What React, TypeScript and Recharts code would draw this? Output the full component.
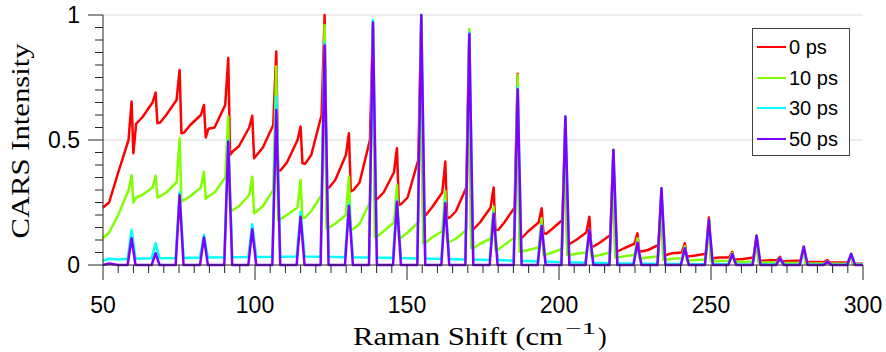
import { LineChart, Line, XAxis, YAxis, ReferenceLine } from 'recharts'

// Raman shift of each rotational line (cm^-1)
const peakShift = [59.4, 67.3, 75.2, 83.2, 91.2, 99.1, 107.0, 115.0, 122.9, 130.9, 138.8, 146.7, 154.7, 162.6, 170.5, 178.5, 186.4, 194.3, 202.1, 210.0, 217.9, 225.8, 233.7, 241.4, 249.3, 257.0, 265.0, 272.7, 280.5, 288.3, 296.1]
const startShift = [50, 52, 55]

// 0 ps: start, then per line: just before, peak, dip after, low, mid-gap
const redStart = [0.23, 0.25, 0.37]
const redPre = [0.5, 0.65, 0.66, 0.6, 0.64, 0.55, 0.56, 0.5, 0.6, 0.44, 0.5, 0.37, 0.42, 0.29, 0.31, 0.23, 0.23, 0.17, 0.18, 0.13, 0.12, 0.085, 0.08, 0.05, 0.045, 0.03, 0.03, 0.02, 0.018, 0.013, 0.01]
const redPeak = [0.654, 0.69, 0.78, 0.64, 0.828, 0.597, 0.854, 0.554, 1.0, 0.527, 0.95, 0.467, 0.98, 0.414, 0.93, 0.31, 0.765, 0.227, 0.55, 0.193, 0.46, 0.127, 0.28, 0.087, 0.19, 0.053, 0.117, 0.033, 0.073, 0.02, 0.044]
const redDip = [0.447, 0.567, 0.527, 0.51, 0.44, 0.427, 0.374, 0.407, 0.307, 0.294, 0.26, 0.24, 0.193, 0.187, 0.14, 0.14, 0.107, 0.127, 0.08, 0.073, 0.053, 0.053, 0.04, 0.033, 0.027, 0.022, 0.017, 0.015, 0.012, 0.01, 0.005]
const redLow = [0.565, 0.57, 0.53, 0.545, 0.455, 0.44, 0.38, 0.405, 0.31, 0.3, 0.265, 0.245, 0.2, 0.19, 0.145, 0.14, 0.11, 0.125, 0.085, 0.075, 0.055, 0.055, 0.04, 0.035, 0.027, 0.022, 0.017, 0.015, 0.012, 0.01, 0.005]
const redMid = [0.59, 0.6, 0.56, 0.55, 0.475, 0.47, 0.41, 0.44, 0.34, 0.33, 0.29, 0.27, 0.23, 0.215, 0.17, 0.17, 0.135, 0.145, 0.1, 0.09, 0.067, 0.06, 0.047, 0.038, 0.03, 0.024, 0.018, 0.016, 0.012, 0.01, 0.005]

// 10 ps
const greenStart = [0.107, 0.13, 0.2]
const greenPre = [0.3, 0.31, 0.33, 0.31, 0.35, 0.28, 0.3, 0.23, 0.28, 0.2, 0.25, 0.17, 0.17, 0.135, 0.14, 0.105, 0.11, 0.07, 0.065, 0.05, 0.05, 0.04, 0.035, 0.027, 0.022, 0.017, 0.014, 0.01, 0.009, 0.006, 0.005]
const greenPeak = [0.36, 0.357, 0.507, 0.373, 0.594, 0.353, 0.794, 0.34, 0.96, 0.354, 0.98, 0.32, 0.99, 0.296, 0.944, 0.233, 0.761, 0.187, 0.59, 0.14, 0.46, 0.107, 0.3, 0.075, 0.18, 0.047, 0.117, 0.028, 0.073, 0.014, 0.044]
const greenDip = [0.25, 0.27, 0.253, 0.265, 0.213, 0.207, 0.18, 0.187, 0.147, 0.14, 0.113, 0.107, 0.087, 0.093, 0.067, 0.06, 0.053, 0.04, 0.04, 0.035, 0.03, 0.027, 0.02, 0.018, 0.015, 0.012, 0.01, 0.008, 0.006, 0.005, 0.003]
const greenLow = [0.27, 0.275, 0.26, 0.275, 0.22, 0.215, 0.185, 0.19, 0.15, 0.145, 0.115, 0.11, 0.09, 0.093, 0.068, 0.062, 0.055, 0.042, 0.04, 0.035, 0.03, 0.027, 0.02, 0.018, 0.015, 0.012, 0.01, 0.008, 0.006, 0.005, 0.003]
const greenMid = [0.28, 0.29, 0.275, 0.29, 0.235, 0.235, 0.2, 0.215, 0.165, 0.165, 0.135, 0.13, 0.11, 0.105, 0.085, 0.08, 0.06, 0.05, 0.045, 0.04, 0.035, 0.03, 0.025, 0.02, 0.016, 0.013, 0.01, 0.008, 0.006, 0.005, 0.003]

// 30 ps
const cyanStart = [0.018, 0.025, 0.022]
const cyanBase = [0.025, 0.027, 0.028, 0.03, 0.031, 0.032, 0.033, 0.034, 0.033, 0.031, 0.03, 0.028, 0.026, 0.024, 0.022, 0.02, 0.017, 0.014, 0.011, 0.009, 0.007, 0.006, 0.005, 0.004, 0.003, 0.003, 0.002, 0.002, 0.001, 0.001, 0.001]
const cyanPeak = [0.14, 0.087, 0.29, 0.12, 0.5, 0.163, 0.674, 0.212, 0.89, 0.245, 0.98, 0.26, 1.0, 0.255, 0.93, 0.21, 0.71, 0.16, 0.594, 0.14, 0.46, 0.089, 0.307, 0.067, 0.18, 0.043, 0.117, 0.027, 0.073, 0.013, 0.044]

// 50 ps
const purpleStart = [0, 0.006, 0]
const purpleBase = [0, 0, 0, 0, 0, 0, 0, 0, 0, 0, 0, 0, 0, 0, 0, 0, 0, 0, 0, 0, 0, 0, 0, 0, 0, 0, 0, 0, 0, 0, 0]
const purplePeak = [0.107, 0.047, 0.28, 0.11, 0.494, 0.143, 0.62, 0.193, 0.878, 0.236, 0.97, 0.253, 1.0, 0.247, 0.924, 0.205, 0.703, 0.156, 0.594, 0.14, 0.46, 0.089, 0.307, 0.067, 0.18, 0.043, 0.117, 0.027, 0.073, 0.013, 0.044]

const xTicks = [50, 55, 60, 65, 70, 75, 80, 85, 90, 95, 100, 105, 110, 115, 120, 125, 130, 135, 140, 145, 150, 155, 160, 165, 170, 175, 180, 185, 190, 195, 200, 205, 210, 215, 220, 225, 230, 235, 240, 245, 250, 255, 260, 265, 270, 275, 280, 285, 290, 295, 300]
const xLabels = [50, 100, 150, 200, 250, 300]
const yTicks = [0, 0.05, 0.1, 0.15, 0.2, 0.25, 0.3, 0.35, 0.4, 0.45, 0.5, 0.55, 0.6, 0.65, 0.7, 0.75, 0.8, 0.85, 0.9, 0.95, 1]
const yLabels = [0, 0.5, 1]

type Pt = { x: number; y: number }

function sawtooth(start: number[], pre: number[], peak: number[], dip: number[], low: number[], mid: number[]): Pt[] {
  const pts: Pt[] = startShift.map((x, i) => ({ x, y: start[i] }))
  peakShift.forEach((c, i) => {
    pts.push({ x: c - 1, y: pre[i] }, { x: c, y: peak[i] }, { x: c + 0.6, y: dip[i] }, { x: c + 1.5, y: low[i] }, { x: c + 3.5, y: mid[i] })
  })
  pts.push({ x: 300, y: mid[mid.length - 1] })
  return pts
}

function spikes(start: number[], base: number[], peak: number[]): Pt[] {
  const pts: Pt[] = startShift.map((x, i) => ({ x, y: start[i] }))
  peakShift.forEach((c, i) => {
    pts.push({ x: c - 1.3, y: base[i] }, { x: c, y: peak[i] }, { x: c + 1.3, y: base[i] })
  })
  pts.push({ x: 300, y: base[base.length - 1] })
  return pts
}

const series = [
  { name: '0 ps', color: '#ff0000', data: sawtooth(redStart, redPre, redPeak, redDip, redLow, redMid) },
  { name: '10 ps', color: '#80ff00', data: sawtooth(greenStart, greenPre, greenPeak, greenDip, greenLow, greenMid) },
  { name: '30 ps', color: '#00ffff', data: spikes(cyanStart, cyanBase, cyanPeak) },
  { name: '50 ps', color: '#8000ff', data: spikes(purpleStart, purpleBase, purplePeak) },
]

const sans = '"Liberation Sans", Arial, sans-serif'
const serif = '"Liberation Serif", "Times New Roman", serif'
const axisColor = '#262626'

function YTick(props: any) {
  const { x, y, payload } = props
  const major = yLabels.includes(payload.value)
  return (
    <g>
      <line x1={x - (major ? 15 : 8)} x2={x} y1={y} y2={y} stroke={axisColor} strokeWidth={1} />
      {major && (
        <text x={x - 23} y={y + 8} textAnchor="end" fontFamily={sans} fontSize={23} fill="#000">
          {payload.value}
        </text>
      )}
    </g>
  )
}

function XTick(props: any) {
  const { x, y, payload } = props
  const major = xLabels.includes(payload.value)
  return (
    <g>
      <line x1={x} x2={x} y1={y} y2={y + (major ? 15 : 8)} stroke={axisColor} strokeWidth={1} />
      {major && (
        <text x={x} y={y + 48} textAnchor="middle" fontFamily={sans} fontSize={23} fill="#000">
          {payload.value}
        </text>
      )}
    </g>
  )
}

function LegendBox() {
  return (
    <div
      style={{
        position: 'absolute',
        left: 752,
        top: 28,
        width: 98,
        height: 128,
        boxSizing: 'border-box',
        border: '1px solid #404040',
        background: '#fff',
        paddingTop: 3,
      }}
    >
      {series.map((s) => (
        <div key={s.name} style={{ display: 'flex', alignItems: 'center', height: 30.5 }}>
          <span style={{ display: 'inline-block', width: 29, height: 2, background: s.color, marginLeft: 3.5 }} />
          <span style={{ marginLeft: 3.5, fontFamily: sans, fontSize: 20, color: '#000', lineHeight: '20px' }}>{s.name}</span>
        </div>
      ))}
    </div>
  )
}

export default function App() {
  return (
    <div style={{ position: 'absolute', left: 0, top: 0, width: 886, height: 352, background: '#fff' }}>
      <LineChart width={886} height={352} margin={{ top: 15, right: 23, left: 0, bottom: 0 }}>
        <XAxis
          type="number"
          dataKey="x"
          domain={[50, 300]}
          ticks={xTicks}
          interval={0}
          height={87}
          tickSize={0}
          tickMargin={0}
          tickLine={false}
          axisLine={{ stroke: axisColor }}
          tick={<XTick />}
          label={{
            content: () => (
              <g fontFamily={serif} fontSize={26} fill="#000">
                <text x={353} y={345} textLength={210} lengthAdjust="spacingAndGlyphs">Raman Shift (cm</text>
                <text x={565} y={334} fontSize={17} textLength={31} lengthAdjust="spacingAndGlyphs">−1</text>
                <text x={598} y={345}>)</text>
              </g>
            ),
          }}
        />
        <YAxis
          type="number"
          domain={[0, 1]}
          ticks={yTicks}
          interval={0}
          width={103}
          tickSize={0}
          tickMargin={0}
          tickLine={false}
          axisLine={{ stroke: axisColor }}
          tick={<YTick />}
          label={{
            content: () => (
              <text
                x={29}
                y={141}
                transform="rotate(-90 29 141)"
                textAnchor="middle"
                fontFamily={serif}
                fontSize={26}
                fill="#000"
                textLength={195}
                lengthAdjust="spacingAndGlyphs"
              >
                CARS Intensity
              </text>
            ),
          }}
        />
        <ReferenceLine y={0.5} stroke="#dcdcdc" strokeWidth={1} />
        <ReferenceLine y={1} stroke="#dcdcdc" strokeWidth={1} />
        {series.map((s) => (
          <Line
            key={s.name}
            data={s.data}
            dataKey="y"
            name={s.name}
            type="linear"
            stroke={s.color}
            strokeWidth={2.5}
            strokeLinejoin="round"
            dot={false}
            activeDot={false}
            isAnimationActive={false}
          />
        ))}
      </LineChart>
      <LegendBox />
    </div>
  )
}
